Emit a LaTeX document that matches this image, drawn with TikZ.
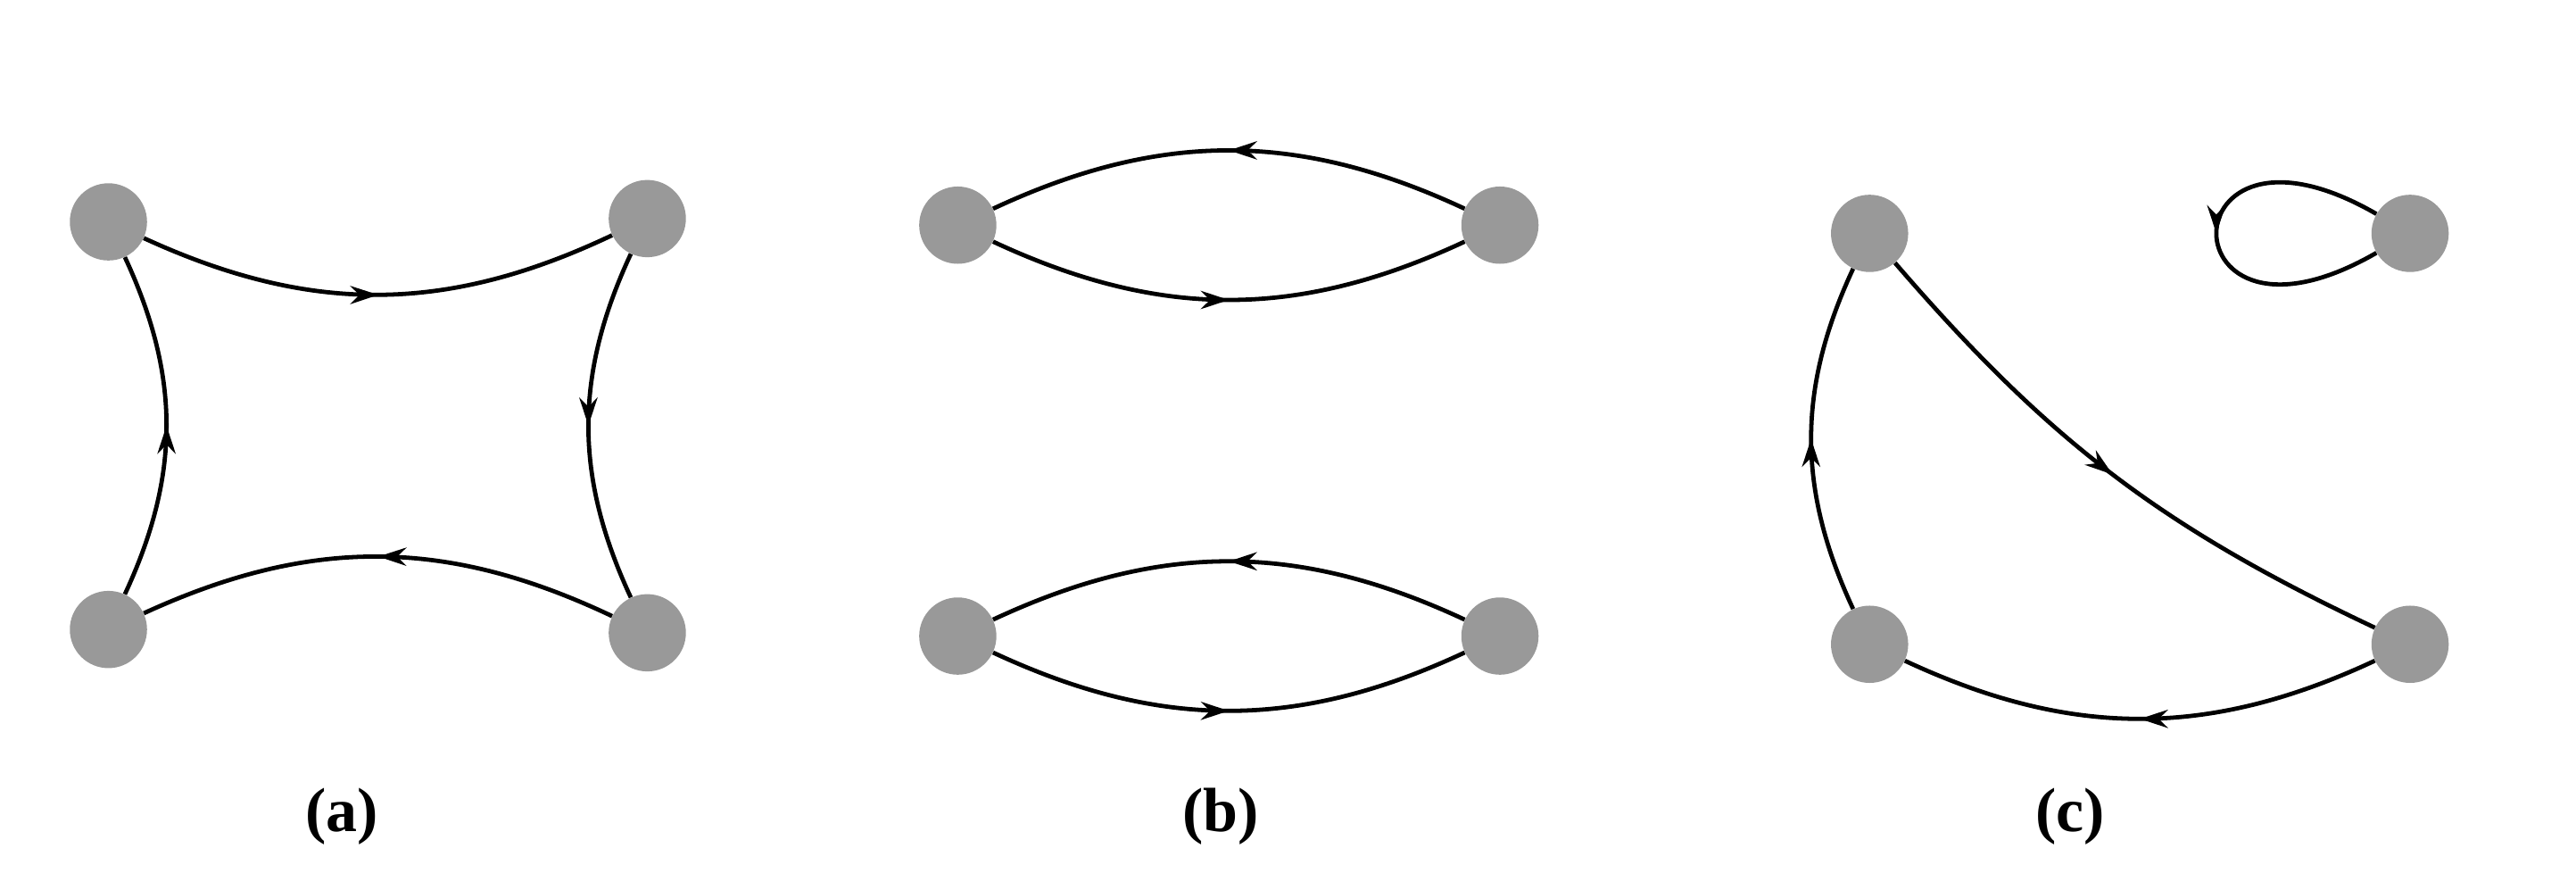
\documentclass[tikz,border=0pt]{standalone}
\usepackage{fontspec}
\setmainfont{Liberation Serif}
\usetikzlibrary{decorations.markings,arrows.meta}
\begin{document}
\begin{tikzpicture}[x=1pt,y=1pt,
  vtx/.style={circle,fill=black!40,minimum size=47pt,inner sep=0pt},
  edg/.style={line width=2.6pt,postaction={decorate},
    decoration={markings,mark=at position 0.5 with {\arrow{Stealth[length=17pt,width=11pt]}}}},
  lbl/.style={font=\fontsize{38}{40}\selectfont\bfseries}]
\useasboundingbox (0,0) rectangle (1568,541);
% (a)
\node[vtx] (A1) at (66,406) {};
\node[vtx] (A2) at (394,408) {};
\node[vtx] (A3) at (66,158) {};
\node[vtx] (A4) at (394,156) {};
\draw[edg] (A1) to[bend right=25] (A2);
\draw[edg] (A2) to[bend right=25] (A4);
\draw[edg] (A4) to[bend right=25] (A3);
\draw[edg] (A3) to[bend right=25] (A1);
\node[lbl] (la) at (208,44) {(a)};
% (b)
\node[vtx] (B1) at (583,404) {};
\node[vtx] (B2) at (913,404) {};
\node[vtx] (B3) at (583,154) {};
\node[vtx] (B4) at (913,154) {};
\draw[edg] (B2) to[bend right=25] (B1);
\draw[edg] (B1) to[bend right=25] (B2);
\draw[edg] (B4) to[bend right=25] (B3);
\draw[edg] (B3) to[bend right=25] (B4);
\node[lbl] (lb) at (743,44) {(b)};
% (c)
\node[vtx] (C1) at (1138,399) {};
\node[vtx] (C2) at (1467,399) {};
\node[vtx] (C3) at (1138,149) {};
\node[vtx] (C4) at (1467,149) {};
\draw[edg] (C1) to[bend right=12] (C4);
\draw[edg] (C4) to[bend left=25] (C3);
\draw[edg] (C3) to[bend left=25] (C1);
\draw[edg] (C2.150) .. controls +(150:150) and +(210:150) .. (C2.210);
\node[lbl] (lc) at (1260,44) {(c)};
\end{tikzpicture}
\end{document}
